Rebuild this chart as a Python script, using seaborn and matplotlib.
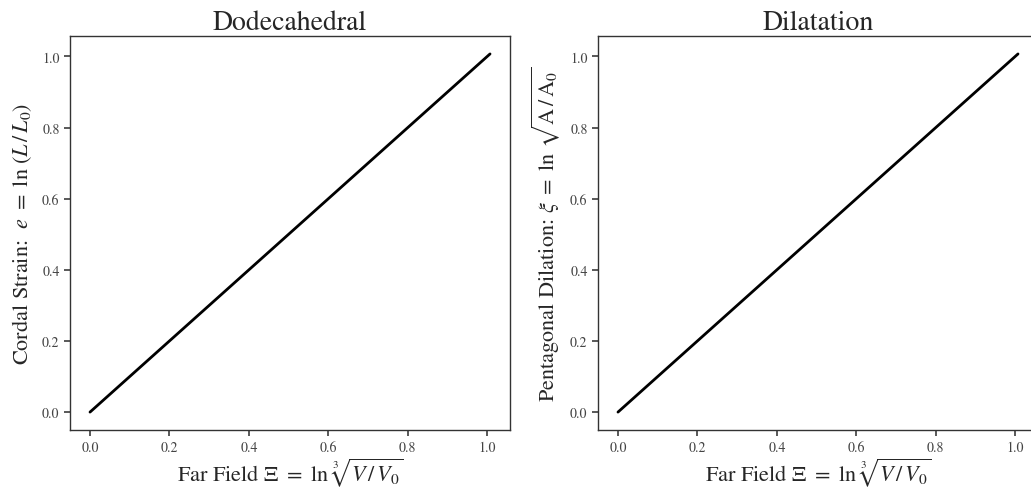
import matplotlib
matplotlib.use("Agg")
import matplotlib.pyplot as plt
import seaborn as sns
import pandas as pd

# far field strain and the two responses (straight line)
far_field = [0.0, 0.25, 0.5, 0.75, 1.007]
cordal_strain = [0.0, 0.25, 0.5, 0.75, 1.007]
pentagonal_dilation = [0.0, 0.25, 0.5, 0.75, 1.007]
ticks = [0.0, 0.2, 0.4, 0.6, 0.8, 1.0]

sns.set_theme(style="ticks")
plt.rcParams['font.family'] = ['STIXGeneral', 'DejaVu Serif']
plt.rcParams['mathtext.fontset'] = 'stix'
plt.rcParams['axes.edgecolor'] = '#333333'
plt.rcParams['axes.linewidth'] = 1.0

df = pd.DataFrame({'xi': far_field, 'e': cordal_strain, 'dil': pentagonal_dilation})

fig = plt.figure(figsize=(10.31, 4.89), dpi=100)
ax1 = fig.add_axes([0.0679, 0.1186, 0.4268, 0.8057])
ax2 = fig.add_axes([0.5800, 0.1186, 0.4268, 0.8057])

panels = [
    (ax1, 'e', 'Dodecahedral', r'Cordal Strain:  $e\ =\ \ln\,(L\,/\,L_0)$'),
    (ax2, 'dil', 'Dilatation', r'Pentagonal Dilation: $\xi\ =\ \ln\,\sqrt{\mathrm{A}\,/\,\mathrm{A}_0}$'),
]
for ax, col, title, ylabel in panels:
    sns.lineplot(data=df, x='xi', y=col, ax=ax, color='black', linewidth=2)
    ax.set_title(title, fontsize=20, pad=5)
    ax.set_xlabel(r'Far Field $\Xi\ =\ \ln\,\sqrt[3]{V\,/\,V_0}$', fontsize=16, labelpad=1)
    ax.set_ylabel(ylabel, fontsize=16, labelpad=6)
    ax.set_xticks(ticks)
    ax.set_yticks(ticks)
    ax.tick_params(labelsize=10, colors='#444444', length=4)

fig.savefig('out.png', dpi=100)
